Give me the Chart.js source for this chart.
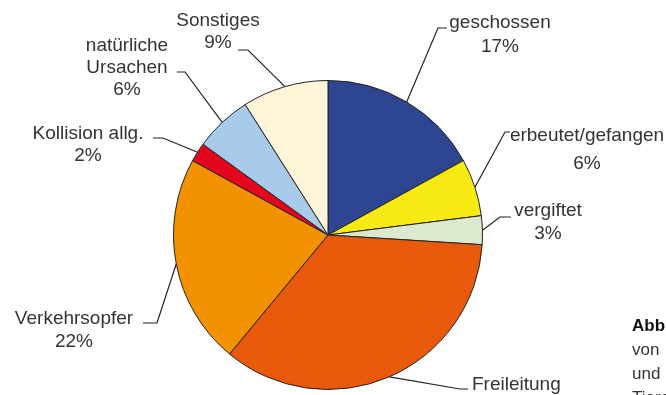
<!DOCTYPE html>
<html lang="de">
<head>
<meta charset="UTF-8">
<title>Todesursachen</title>
<script src="https://cdn.jsdelivr.net/npm/chart.js"></script>
<style>
  body { margin: 0; background: #fff; }
  canvas { display: block; }
</style>
</head>
<body>
<canvas id="pie" width="666" height="395"></canvas>
<script>
// data, clockwise from 12 o'clock
const causes = [['geschossen'], ['erbeutet/gefangen'], ['vergiftet'], ['Freileitung'],
                ['Verkehrsopfer'], ['Kollision allg.'], ['natürliche', 'Ursachen'], ['Sonstiges']];
const shares = [17, 6, 3, 35, 22, 2, 6, 9];
const sliceColors = ['#2e4592', '#f7ea12', '#dbe9cf', '#e8590c', '#f39200', '#e3061c', '#a9cbeb', '#fff6d9'];

// label placement: text centre, line gap, elbow point and end of the short dash
const labelPos = [
  { x: 500, y: 23, gap: 23.5, elbow: [438, 28], end: [447, 28] },
  { x: 587, y: 136, gap: 28, elbow: [505, 132], end: [510, 132] },
  { x: 548, y: 211, gap: 22.5, elbow: [500, 217], end: [511, 217] },
  { x: 472, y: 385, gap: 23, elbow: [460, 389], end: [468, 389], align: 'left' },
  { x: 74, y: 319, gap: 23, elbow: [157, 323], end: [143, 323] },
  { x: 88, y: 134, gap: 21.5, elbow: [163, 138], end: [153, 138] },
  { x: 127, y: 46, gap: 22, elbow: [185, 72], end: [177, 72] },
  { x: 218, y: 21, gap: 22, elbow: [248, 50], end: [238, 50] }
];

const leaderLabels = {
  id: 'leaderLabels',
  afterDraw(chart) {
    const c = chart.ctx;
    const arcs = chart.getDatasetMeta(0).data;
    c.save();
    c.strokeStyle = '#222';
    c.lineWidth = 1.2;
    c.font = '19px "Liberation Sans", Arial, sans-serif';
    c.fillStyle = '#333';
    c.textBaseline = 'middle';
    arcs.forEach((arc, i) => {
      const p = arc.getProps(['x', 'y', 'startAngle', 'endAngle', 'outerRadius'], true);
      const mid = (p.startAngle + p.endAngle) / 2;
      const ax = p.x + Math.cos(mid) * p.outerRadius;
      const ay = p.y + Math.sin(mid) * p.outerRadius;
      const lp = labelPos[i];
      c.beginPath();
      c.moveTo(ax, ay);
      c.lineTo(lp.elbow[0], lp.elbow[1]);
      c.lineTo(lp.end[0], lp.end[1]);
      c.stroke();
      const lines = causes[i].concat([shares[i] + '%']);
      c.textAlign = lp.align || 'center';
      lines.forEach((t, k) => c.fillText(t, lp.x, lp.y + k * lp.gap));
    });
    // caption on the right, clipped by the picture edge
    c.textAlign = 'left';
    c.font = 'bold 17px "Liberation Sans", Arial, sans-serif';
    c.fillStyle = '#111';
    c.fillText('Abb.', 632, 326);
    c.font = '17px "Liberation Sans", Arial, sans-serif';
    c.fillStyle = '#333';
    c.fillText('von', 632, 350);
    c.fillText('und', 632, 374);
    c.fillText('Tiere', 632, 398);
    c.restore();
  }
};

new Chart(document.getElementById('pie'), {
  type: 'pie',
  data: {
    labels: causes.map(l => l.join(' ')),
    datasets: [{
      data: shares,
      backgroundColor: sliceColors,
      borderColor: '#222',
      borderWidth: 1
    }]
  },
  options: {
    responsive: false,
    animation: false,
    layout: { padding: { top: 80, left: 173, right: 183, bottom: 5 } },
    plugins: {
      legend: { display: false },
      tooltip: { enabled: false }
    }
  },
  plugins: [leaderLabels]
});
</script>
</body>
</html>
